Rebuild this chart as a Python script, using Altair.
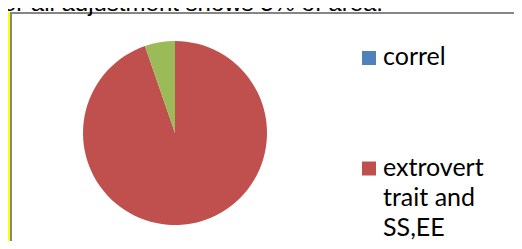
import altair as alt
import pandas as pd

# ---- data ----
categories = ["correl", "extrovert trait and SS,EE", "over all adjustment"]
values = [0.0, 94.7, 5.3]
legend_labels = ["correl", "extrovert\ntrait and\nSS,EE", "over all\nadjustment"]
colors = ["#4F81BD", "#C0504D", "#9BBB59"]
caption = ["Over all adjustment shows 5% of area."]

df = pd.DataFrame({
    "cat": categories,
    "value": values,
    "idx": list(range(len(categories))),
    "label": legend_labels,
})

W, H = 506, 233

color_scale = alt.Scale(domain=categories, range=colors)
legend_y = alt.Scale(type="point", domain=categories, range=[50, 271], padding=0)

base = alt.Chart(df)

pie = base.mark_arc(outerRadius=92).encode(
    theta=alt.Theta("value:Q", stack=True),
    color=alt.Color("cat:N", scale=color_scale, legend=None),
    order=alt.Order("idx:Q"),
    x=alt.value(167),
    y=alt.value(125),
)

squares = base.mark_square(size=196, opacity=1).encode(
    x=alt.value(361),
    y=alt.Y("cat:N", scale=legend_y, axis=None),
    color=alt.Color("cat:N", scale=color_scale, legend=None),
)

labels = base.mark_text(
    align="left", baseline="alphabetic", dy=7, font="Lato", fontSize=25,
    lineBreak="\n", lineHeight=30, color="#000000",
).encode(
    x=alt.value(375),
    y=alt.Y("cat:N", scale=legend_y, axis=None),
    text="label:N",
)

one = alt.Data(values=[{"t": caption[0]}])

top_text = alt.Chart(one).mark_text(
    align="right", baseline="alphabetic", font="Liberation Sans", fontSize=24,
    color="#000000",
).encode(x=alt.value(375), y=alt.value(3), text="t:N")

frame_top = alt.Chart(one).mark_rule(color="#868686", strokeWidth=2).encode(
    x=alt.value(2), x2=alt.value(W), y=alt.value(5))
frame_left = alt.Chart(one).mark_rule(color="#868686", strokeWidth=2).encode(
    x=alt.value(3), y=alt.value(4), y2=alt.value(H))
yellow = alt.Chart(one).mark_rule(color="#FFFF00", strokeWidth=3).encode(
    x=alt.value(0.5), y=alt.value(4), y2=alt.value(H))

chart = alt.layer(yellow, frame_left, frame_top, pie, squares, labels, top_text).properties(
    width=W, height=H,
    autosize=alt.AutoSizeParams(type="none"),
    padding=0,
).configure_view(stroke=None)

chart.save("out.html", embed_options={"renderer": "svg", "actions": False})
